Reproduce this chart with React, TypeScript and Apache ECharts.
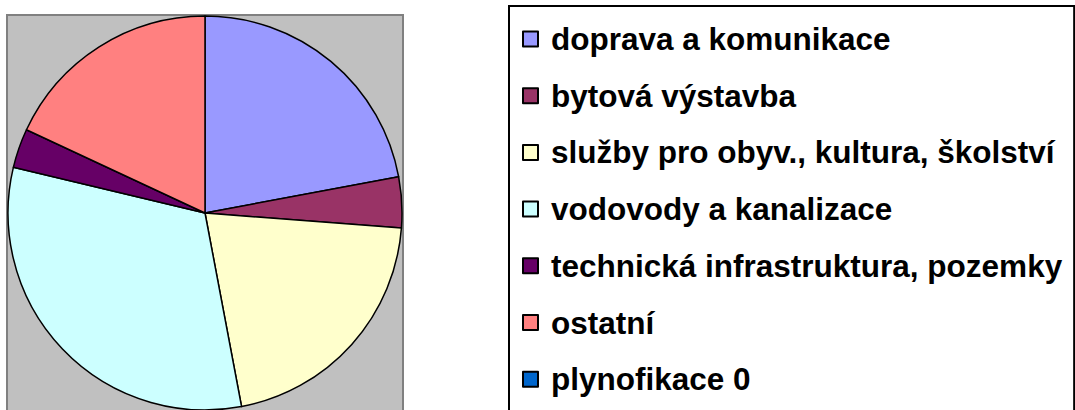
import React, { useEffect, useRef } from "react";
import * as echarts from "echarts";

const categories = [
  "doprava a komunikace",
  "bytová výstavba",
  "služby pro obyv., kultura, školství",
  "vodovody a kanalizace",
  "technická infrastruktura, pozemky",
  "ostatní",
  "plynofikace 0",
];
const values = [79.4, 15, 74.9, 114.1, 11.6, 65, 0];
const colors = ["#9999FF", "#993366", "#FFFFCC", "#CCFFFF", "#660066", "#FF8080", "#0066CC"];

export default function App() {
  const ref = useRef<HTMLDivElement>(null);
  useEffect(() => {
    if (!ref.current) return;
    const chart = echarts.init(ref.current, null, { renderer: "svg" });
    chart.setOption({
      animation: false,
      backgroundColor: "#FFFFFF",
      graphic: [
        {
          type: "rect",
          z: -10,
          shape: { x: 7, y: 15, width: 396, height: 420 },
          style: { fill: "#C0C0C0", stroke: "#808080", lineWidth: 2 },
        },
      ],
      legend: {
        orient: "vertical",
        left: 509,
        top: 6,
        borderColor: "#000000",
        borderWidth: 2,
        backgroundColor: "#FFFFFF",
        padding: [15, 12, 60, 13],
        itemWidth: 15,
        itemHeight: 15,
        itemGap: 20.7,
        icon: "rect",
        itemStyle: { borderColor: "#000000", borderWidth: 2 },
        selectedMode: false,
        textStyle: {
          fontFamily: "Liberation Sans, Arial, sans-serif",
          fontWeight: "bold",
          fontSize: 31.5,
          lineHeight: 36,
          color: "#000000",
          padding: [0, 0, 0, 8],
        },
        data: categories.map((c) => ({ name: c })),
      },
      series: [
        {
          type: "pie",
          center: [205, 213],
          radius: [0, 197],
          startAngle: 90,
          clockwise: true,
          label: { show: false },
          labelLine: { show: false },
          emphasis: { disabled: true },
          avoidLabelOverlap: false,
          itemStyle: { borderColor: "#000000", borderWidth: 1.5 },
          data: categories.map((c, i) => ({
            name: c,
            value: values[i],
            itemStyle: {
              color: colors[i],
              borderWidth: values[i] === 0 ? 0 : 1.5,
            },
          })),
        },
      ],
    });
    return () => chart.dispose();
  }, []);
  return (
    <div
      ref={ref}
      style={{ position: "fixed", left: 0, top: 0, width: 1075, height: 520 }}
    />
  );
}
